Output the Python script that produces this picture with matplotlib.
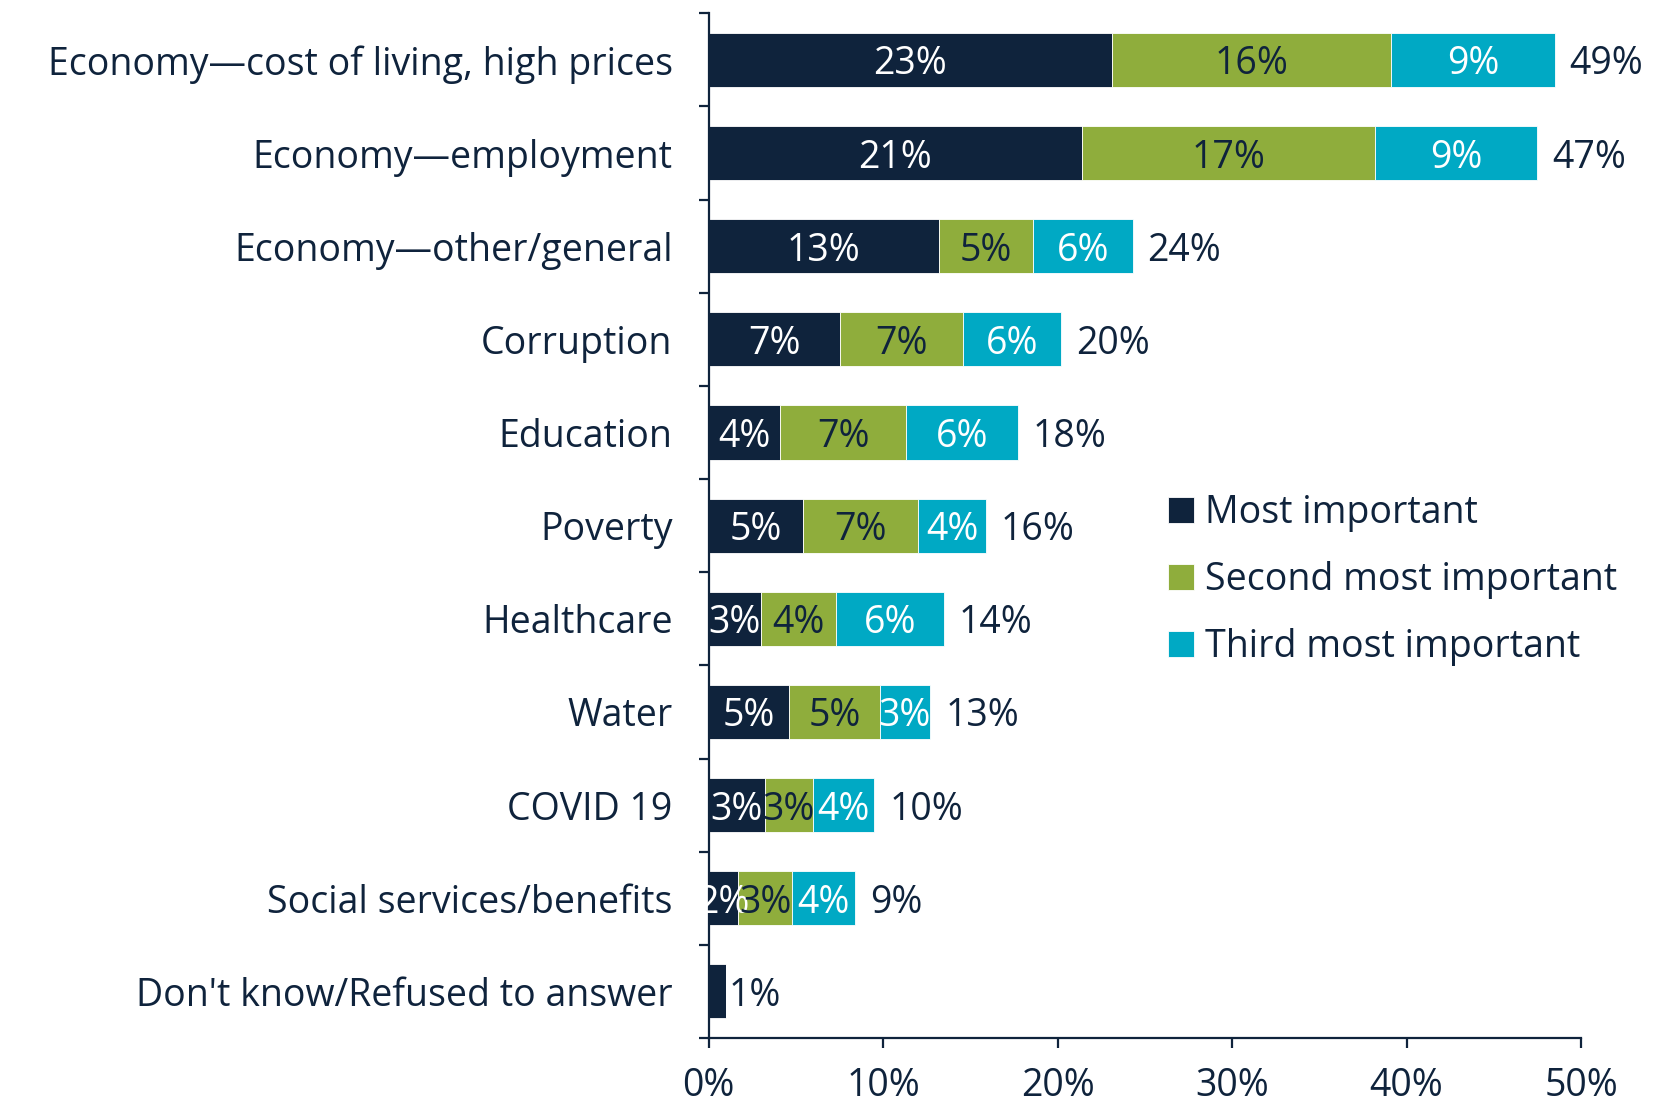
import matplotlib
matplotlib.use('Agg')
import matplotlib.pyplot as plt
import numpy as np

plt.rcParams['font.family'] = ['Open Sans', 'DejaVu Sans']

categories = ["Economy\u2014cost of living, high prices", "Economy\u2014employment",
              "Economy\u2014other/general", "Corruption", "Education", "Poverty",
              "Healthcare", "Water", "COVID 19", "Social services/benefits",
              "Don't know/Refused to answer"]
most = [23.1, 21.4, 13.2, 7.5, 4.1, 5.4, 3.0, 4.6, 3.2, 1.7, 1.0]
second = [16.0, 16.8, 5.4, 7.1, 7.2, 6.6, 4.3, 5.2, 2.8, 3.1, 0]
third = [9.4, 9.3, 5.7, 5.6, 6.4, 3.9, 6.2, 2.9, 3.5, 3.6, 0]
most_lbl = ["23%", "21%", "13%", "7%", "4%", "5%", "3%", "5%", "3%", "2%", ""]
second_lbl = ["16%", "17%", "5%", "7%", "7%", "7%", "4%", "5%", "3%", "3%", ""]
third_lbl = ["9%", "9%", "6%", "6%", "6%", "4%", "6%", "3%", "4%", "4%", ""]
total_lbl = ["49%", "47%", "24%", "20%", "18%", "16%", "14%", "13%", "10%", "9%", "1%"]
series_names = ["Most important", "Second most important", "Third most important"]

navy = '#0f233c'
green = '#8fad3c'
teal = '#00a9c4'

fig = plt.figure(figsize=(16.66, 11.05), dpi=100)
ax = fig.add_axes([0.4254, 0.0606, 0.9490 - 0.4254, 0.988 - 0.0606])

n = len(categories)
y = np.arange(n)[::-1]
h = 0.58
most = np.array(most)
second = np.array(second)
third = np.array(third)

ax.barh(y, most, height=h, color=navy, edgecolor='white', linewidth=0.6, label=series_names[0])
ax.barh(y, second, left=most, height=h, color=green, edgecolor='white', linewidth=0.6, label=series_names[1])
ax.barh(y, third, left=most + second, height=h, color=teal, edgecolor='white', linewidth=0.6, label=series_names[2])

fs = 27
for i in range(n):
    ax.text(most[i] / 2, y[i], most_lbl[i], color='white', ha='center', va='center_baseline', fontsize=fs)
    ax.text(most[i] + second[i] / 2, y[i], second_lbl[i], color=navy, ha='center', va='center_baseline', fontsize=fs)
    ax.text(most[i] + second[i] + third[i] / 2, y[i], third_lbl[i], color='white', ha='center', va='center_baseline', fontsize=fs)
    tot = most[i] + second[i] + third[i]
    off = 0.15 if second[i] == 0 else 0.85
    ax.text(tot + off, y[i], total_lbl[i], color=navy, ha='left', va='center_baseline', fontsize=fs)

ax.set_xlim(0, 50)
ax.set_ylim(-0.5, n - 0.5)
ax.set_xticks(np.arange(0, 51, 10))
ax.set_xticklabels([f"{v}%" for v in range(0, 51, 10)], fontsize=fs, color=navy)
ax.set_yticks(y)
ax.set_yticklabels(categories, fontsize=fs, color=navy)
ax.set_yticks(np.arange(-0.5, n, 1), minor=True)
ax.tick_params(axis='y', which='major', length=0, pad=26)
ax.tick_params(axis='y', which='minor', length=7.5, width=1.6, color=navy, direction='out')
ax.tick_params(axis='x', length=7.5, width=1.6, color=navy, pad=13)

for s in ['top', 'right']:
    ax.spines[s].set_visible(False)
for s in ['left', 'bottom']:
    ax.spines[s].set_color(navy)
    ax.spines[s].set_linewidth(1.6)

leg = ax.legend(loc='upper left', bbox_to_anchor=(0.701, 0.553), bbox_transform=fig.transFigure,
                frameon=False, fontsize=fs, handlelength=0.7, handleheight=0.7,
                handletextpad=0.3, labelspacing=0.78, borderpad=0, borderaxespad=0)
for t in leg.get_texts():
    t.set_color(navy)

fig.savefig('out.png', dpi=100)
